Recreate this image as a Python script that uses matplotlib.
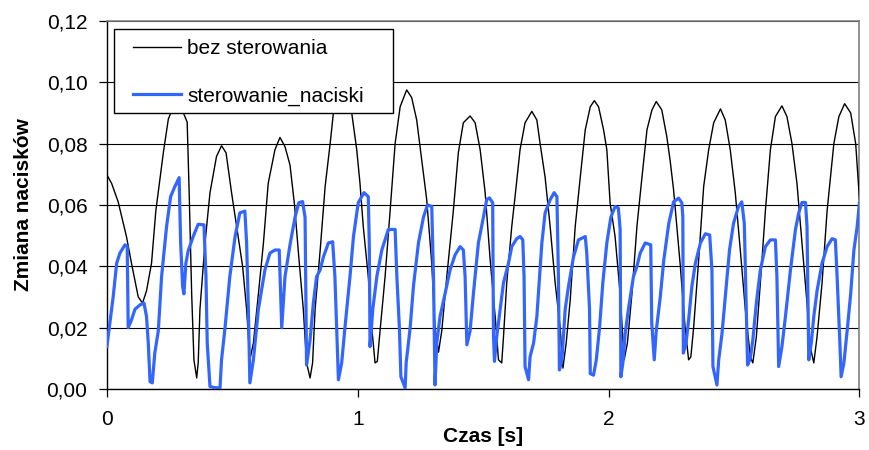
import matplotlib
matplotlib.use("Agg")
import matplotlib.pyplot as plt
from matplotlib.patches import Rectangle
from matplotlib.ticker import FuncFormatter

plt.rcParams['font.family'] = ['Liberation Sans', 'DejaVu Sans']

# bez sterowania (black)
t_bez = [0, .019, .045, .078, .098, .125, .142, .158, .178, .195, .225, .245, .28, .32, .328, .338,
         .347, .358, .364, .371, .391, .411, .437, .457, .475, .497, .517, .541, .557, .570, .584,
         .604, .624, .643, .670, .690, .710, .730, .748, .765, .783, .796, .81, .82, .83, .85, .87,
         .89, .903, .94, .976, .996, 1.009, 1.022, 1.042, 1.056, 1.069, 1.078, 1.089, 1.109, 1.129,
         1.149, 1.169, 1.195, 1.215, 1.235, 1.255, 1.275, 1.295, 1.308, 1.322, 1.335, 1.355, 1.381,
         1.401, 1.421, 1.448, 1.468, 1.488, 1.508, 1.528, 1.548, 1.561, 1.574, 1.581, 1.594, 1.614,
         1.627, 1.647, 1.667, 1.694, 1.714, 1.727, 1.747, 1.767, 1.787, 1.807, 1.818, 1.831, 1.847,
         1.867, 1.887, 1.907, 1.927, 1.943, 1.96, 1.98, 1.993, 2.006, 2.026, 2.046, 2.062, 2.075,
         2.093, 2.113, 2.133, 2.153, 2.173, 2.19, 2.212, 2.232, 2.245, 2.259, 2.285, 2.305, 2.319,
         2.328, 2.339, 2.359, 2.379, 2.399, 2.419, 2.446, 2.465, 2.485, 2.505, 2.525, 2.545, 2.565,
         2.575, 2.589, 2.605, 2.625, 2.645, 2.665, 2.691, 2.711, 2.731, 2.751, 2.771, 2.791, 2.804,
         2.818, 2.831, 2.851, 2.871, 2.898, 2.918, 2.941, 2.965, 2.985, 3.0]
y_bez = [.0698, .067, .061, .0497, .041, .030, .028, .032, .041, .058, .077, .088, .095, .087, .064, .031,
         .0095, .0036, .0085, .026, .0475, .064, .0758, .0793, .077, .064, .053, .040, .026, .0095, .015,
         .031, .0475, .067, .078, .082, .079, .073, .060, .043, .026, .0085, .0036, .0085, .026, .045, .066,
         .080, .090, .097, .090, .078, .067, .053, .0366, .020, .0085, .009, .019, .0366, .058,
         .080, .092, .0975, .095, .0877, .0747, .0617, .041, .020, .012, .019, .0366, .058,
         .077, .0868, .089, .0868, .078, .064, .042, .0235, .0095, .0085, .017, .0346, .053,
         .0626, .078, .0868, .0905, .0877, .080, .069, .053, .0346, .020, .0068, .015, .029,
         .053, .069, .0845, .092, .094, .092, .0845, .078, .0607, .0496, .031, .0095, .015,
         .031, .053, .069, .0845, .091, .0937, .091, .0823, .0747, .065, .041, .020, .0095,
         .0105, .020, .042, .066, .078, .0868, .0913, .0877, .078, .064, .0453, .026, .0105,
         .0085, .017, .0346, .058, .078, .0888, .0923, .0888, .080, .067, .0475, .028, .0137,
         .0085, .017, .0346, .058, .080, .0888, .093, .090, .080, .062]

# sterowanie_naciski (blue)
t_ster = [0, .012, .025, .039, .052, .072, .081, .085, .098, .112, .132, .148, .158, .165, .172, .181,
          .191, .205, .218, .238, .254, .271, .288, .294, .302, .307, .315, .324, .344, .364, .387,
          .395, .400, .411, .431, .451, .457, .471, .490, .511, .530, .550, .557, .564, .570, .584,
          .604, .630, .650, .670, .687, .697, .710, .730, .750, .765, .780, .790, .794, .796, .81,
          .823, .836, .850, .863, .883, .900, .909, .916, .923, .936, .949, .969, .983, 1.002,
          1.025, 1.042, 1.046, 1.049, 1.060, 1.076, 1.096, 1.122, 1.149, 1.156, 1.166, 1.172,
          1.189, 1.193, 1.209, 1.222, 1.242, 1.262, 1.278, 1.295, 1.302, 1.308, 1.315, 1.328,
          1.348, 1.368, 1.388, 1.408, 1.421, 1.428, 1.435, 1.448, 1.461, 1.481, 1.501, 1.514,
          1.525, 1.538, 1.541, 1.545, 1.554, 1.568, 1.581, 1.601, 1.614, 1.634, 1.647, 1.658,
          1.663, 1.667, 1.681, 1.687, 1.701, 1.714, 1.734, 1.747, 1.767, 1.783, 1.794, 1.800,
          1.804, 1.814, 1.827, 1.840, 1.860, 1.880, 1.907, 1.913, 1.924, 1.927, 1.940, 1.951,
          1.964, 1.977, 1.993, 2.009, 2.026, 2.039, 2.046, 2.049, 2.057, 2.066, 2.079, 2.099,
          2.113, 2.126, 2.146, 2.168, 2.172, 2.182, 2.190, 2.206, 2.220, 2.240, 2.259, 2.279,
          2.292, 2.296, 2.298, 2.309, 2.319, 2.332, 2.346, 2.366, 2.386, 2.403, 2.412, 2.416,
          2.432, 2.439, 2.452, 2.465, 2.482, 2.498, 2.518, 2.531, 2.541, 2.549, 2.554, 2.565,
          2.575, 2.589, 2.605, 2.625, 2.645, 2.665, 2.671, 2.678, 2.691, 2.705, 2.725, 2.745,
          2.758, 2.771, 2.785, 2.791, 2.798, 2.808, 2.818, 2.831, 2.851, 2.871, 2.891, 2.904,
          2.911, 2.922, 2.927, 2.938, 2.951, 2.965, 2.978, 2.991, 3.0]
y_ster = [.0138, .0215, .030, .041, .0443, .047, .0464, .020, .0225, .026, .0274, .028, .0236, .015, .0024, .002,
          .0117, .019, .0366, .053, .0627, .066, .0689, .0476, .0334, .031, .041, .045, .0497, .0537, .0535,
          .0366, .015, .0008, .0004, .0004, .0095, .020, .0366, .0497, .0574, .058, .0476, .026, .002, .0095,
          .026, .0388, .0443, .0453, .0453, .020, .0366, .047, .056, .0607, .0611, .056, .026, .0078, .016,
          .028, .0366, .0388, .043, .0476, .048, .0366, .020, .003, .0085, .020, .0366, .0497, .0607,
          .064, .0627, .0476, .0138, .026, .0366, .0453, .052, .052, .0366, .020, .004,
          .0003, .0085, .020, .0334, .0476, .056, .060, .0595, .0366, .0013, .015, .0236,
          .031, .0388, .0437, .0464, .0453, .0366, .0144, .019, .031, .0476, .056, .0617,
          .0623, .0607, .018, .009, .017, .026, .0346, .041, .0464, .049, .0497, .0486,
          .0366, .0073, .003, .0105, .015, .0236, .0476, .0574, .0617, .064, .0627, .0366,
          .0062, .0095, .026, .0334, .043, .0486, .0497, .0443, .026, .005, .0045, .0095,
          .020, .0346, .0476, .056, .0595, .059, .052, .004, .0085, .018, .026, .0366,
          .040, .0443, .0476, .047, .0215, .0095, .019, .030, .042, .054, .061, .0622,
          .0607, .056, .0117, .015, .0225, .0334, .041, .0476, .0506, .0502, .0388, .0073,
          .0013, .0095, .018, .030, .0453, .054, .0595, .061, .054, .026, .0078, .010,
          .016, .028, .0388, .0464, .0486, .0486, .0366, .0073, .0138, .0236, .0388, .052,
          .0574, .0608, .0608, .053, .0095, .015, .0236, .032, .041, .0464, .049, .0486,
          .0366, .015, .004, .0085, .019, .031, .0453, .053, .0607]

x_ticks = [0, 1, 2, 3]
y_ticks = [0, 0.02, 0.04, 0.06, 0.08, 0.10, 0.12]

fig = plt.figure(figsize=(8.69, 4.5), dpi=100)
ax = fig.add_axes([0.123, 0.1356, 0.866, 0.818])

ax.plot(t_bez, y_bez, color='black', lw=1.0, label='bez sterowania', zorder=3)
ax.plot(t_ster, y_ster, color='#3366ff', lw=2.3, label='sterowanie_naciski', zorder=4)

ax.set_xlim(0, 3)
ax.set_ylim(0, 0.12)
ax.set_xticks(x_ticks)
ax.set_yticks(y_ticks)
ax.yaxis.set_major_formatter(FuncFormatter(lambda v, p: f"{v:.2f}".replace('.', ',')))
ax.xaxis.set_major_formatter(FuncFormatter(lambda v, p: f"{v:g}"))
ax.tick_params(axis='both', labelsize=15, direction='out', length=6, width=0.9, colors='black')
ax.tick_params(axis='y', pad=8)
ax.tick_params(axis='x', pad=9)

ax.grid(axis='y', color='black', lw=0.8, zorder=0)
ax.set_axisbelow(True)
for s in ['top', 'right']:
    ax.spines[s].set_color('#808080')
    ax.spines[s].set_linewidth(1.2)
for s in ['left', 'bottom']:
    ax.spines[s].set_color('black')
    ax.spines[s].set_linewidth(1.0)

ax.set_xlabel('Czas [s]', fontsize=15, fontweight='bold', labelpad=-1)
ax.set_ylabel('Zmiana nacisków', fontsize=15, fontweight='bold', labelpad=10)

# legend box
ax.add_patch(Rectangle((0.0093, 0.75), 0.371, 0.228, transform=ax.transAxes,
                       facecolor='white', edgecolor='black', lw=1.0, zorder=9))
leg = ax.legend(loc='upper left', bbox_to_anchor=(0.035, 0.95), borderaxespad=0,
                fontsize=15, frameon=False, handlelength=2.3, handletextpad=0.3,
                labelspacing=1.35, borderpad=0)
leg.set_zorder(10)

fig.savefig('out.png', dpi=100)
